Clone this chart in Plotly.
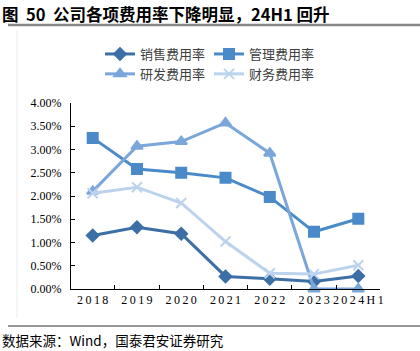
import plotly.graph_objects as go

categories = ["2018", "2019", "2020", "2021", "2022", "2023", "2024H1"]
sales = [0.0115, 0.0133, 0.0119, 0.0027, 0.0022, 0.0016, 0.0028]
mgmt = [0.0325, 0.0258, 0.0250, 0.0239, 0.0198, 0.0123, 0.0151]
rnd = [0.0210, 0.0307, 0.0317, 0.0357, 0.0292, 0.0, 0.0]
fin = [0.0206, 0.0219, 0.0185, 0.0102, 0.0034, 0.0032, 0.0051]
yticks = [0, 0.005, 0.01, 0.015, 0.02, 0.025, 0.03, 0.035, 0.04]

W, H = 420, 351
L, R, T, B = 71, 40, 103, 62
pw, ph = W - L - R, H - T - B

def px(x):
    return (x - L) / pw

def py(y):
    return (H - B - y) / ph

def spaced(s):
    return "\u2009".join(list(s))

fig = go.Figure()
series = [
    ("销售费用率", sales, "#3C6FA6", "diamond", 9),
    ("管理费用率", mgmt, "#4A8AC8", "square", 10),
    ("研发费用率", rnd, "#7BA6DA", "triangle-up", 10),
    ("财务费用率", fin, "#BCD3EE", "x-thin", 10),
]
for name, vals, col, sym, sz in series:
    fig.add_trace(go.Scatter(
        x=categories, y=vals, name=name, mode="lines+markers",
        line=dict(color=col, width=3),
        marker=dict(symbol=sym, size=sz, color=col, line=dict(color=col, width=2)),
        cliponaxis=False,
    ))

fig.update_layout(
    width=W, height=H,
    margin=dict(l=L, r=R, t=T, b=B),
    paper_bgcolor="white", plot_bgcolor="white",
    showlegend=True,
    legend=dict(
        orientation="h", x=px(209), xanchor="center", y=py(39), yanchor="top",
        entrywidth=64, entrywidthmode="pixels",
        font=dict(family="Noto Sans CJK SC", size=13, color="#404040"),
        itemwidth=30, tracegroupgap=0,
    ),
    font=dict(family="Liberation Serif", color="#000000"),
)
fig.update_xaxes(
    type="category", categoryorder="array", categoryarray=categories,
    tickmode="array", tickvals=categories, ticktext=[spaced(c) for c in categories],
    tickangle=0, tickfont=dict(family="Liberation Serif", size=12, color="#000"),
    showline=True, linecolor="#000", linewidth=1, showgrid=False, zeroline=False,
    ticks="inside", ticklen=4, tickcolor="#000", tickson="boundaries",
)
fig.update_yaxes(
    range=[0, 0.04], tickmode="array", tickvals=yticks,
    ticktext=[f"{v*100:.2f}%" for v in yticks],
    tickfont=dict(family="Liberation Serif", size=12, color="#000"),
    showline=True, linecolor="#000", linewidth=1, showgrid=False, zeroline=False,
    ticks="inside", ticklen=4, tickcolor="#000", ticklabelstandoff=6,
)

fig.add_annotation(
    xref="paper", yref="paper", x=px(0), y=py(14), xanchor="left", yanchor="middle",
    text="<b>图  50  公司各项费用率下降明显，24H1 回升</b>", showarrow=False,
    font=dict(family="Noto Sans CJK SC", size=16.5, color="#000"),
)
fig.add_annotation(
    xref="paper", yref="paper", x=px(0), y=py(340), xanchor="left", yanchor="middle",
    text="数据来源：Wind，国泰君安证券研究", showarrow=False,
    font=dict(family="Noto Sans CJK SC", size=13.5, color="#000"),
)
fig.add_shape(type="line", xref="paper", yref="paper",
              x0=px(8), x1=px(420), y0=py(25), y1=py(25),
              line=dict(color="#888888", width=2.5))
fig.add_shape(type="line", xref="paper", yref="paper",
              x0=px(8), x1=px(420), y0=py(326), y1=py(326),
              line=dict(color="#333333", width=1))
fig.add_shape(type="line", xref="paper", yref="paper",
              x0=px(17), x1=px(17), y0=py(30), y1=py(318),
              line=dict(color="#EBEBEB", width=1))

fig.write_html("out.html")
